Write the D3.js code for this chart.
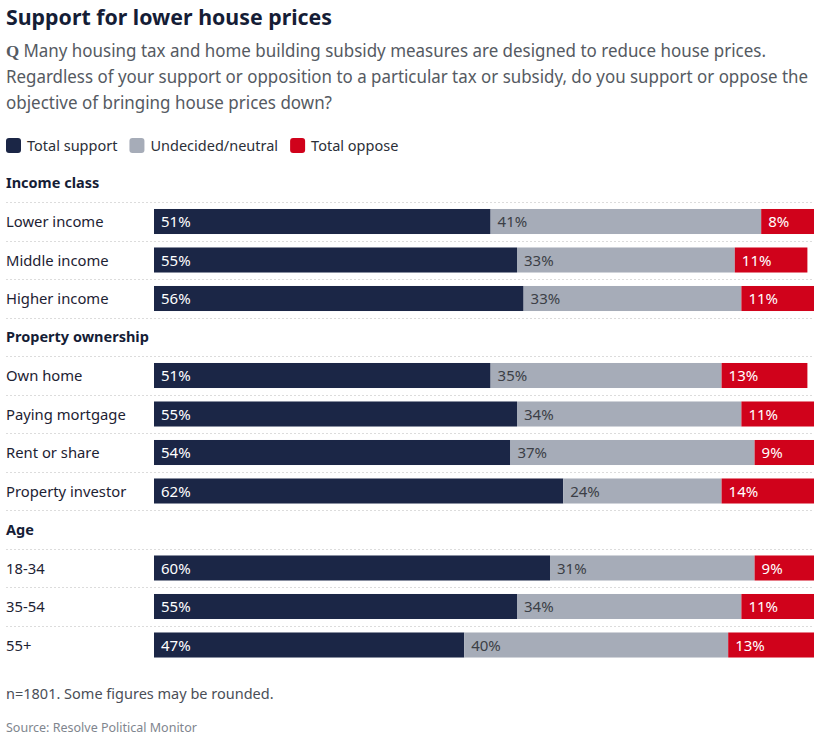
<!DOCTYPE html>
<html>
<head>
<meta charset="utf-8">
<script src="https://cdn.jsdelivr.net/npm/d3@7"></script>
<style>
  body { margin: 0; background: #fff; }
  svg { display: block; font-family: 'Noto Sans', sans-serif; }
</style>
</head>
<body>
<svg id="chart" width="835" height="737"></svg>
<script>
// Support for lower house prices - stacked 100% bars by group
const seriesNames = ['Total support', 'Undecided/neutral', 'Total oppose'];
const seriesColors = ['#1b2646', '#a6acb8', '#d0021b'];
const labelColors = ['#ffffff', '#3c3f46', '#ffffff'];

const groups = ['Income class', 'Property ownership', 'Age'];
const categories = [
  ['Lower income', 'Middle income', 'Higher income'],
  ['Own home', 'Paying mortgage', 'Rent or share', 'Property investor'],
  ['18-34', '35-54', '55+']
];
const support = [[51, 55, 56], [51, 55, 54, 62], [60, 55, 47]];
const neutral = [[41, 33, 33], [35, 34, 37, 24], [31, 34, 40]];
const oppose = [[8, 11, 11], [13, 11, 9, 14], [9, 11, 13]];

const svg = d3.select('#chart');

// Title + question
svg.append('text')
  .attr('x', 6).attr('y', 25)
  .attr('fill', '#151d36')
  .attr('font-size', '21.5px')
  .attr('font-weight', 'bold')
  .attr('textLength', 326)
  .attr('lengthAdjust', 'spacingAndGlyphs')
  .text('Support for lower house prices');

const qLines = [
  'Many housing tax and home building subsidy measures are designed to reduce house prices.',
  'Regardless of your support or opposition to a particular tax or subsidy, do you support or oppose the',
  'objective of bringing house prices down?'
];
const qWidths = [760, 802, 326];
qLines.forEach((line, i) => {
  const t = svg.append('text')
    .attr('x', 6).attr('y', 57 + i * 26)
    .attr('fill', '#555a62')
    .attr('font-size', '17.5px')
    .attr('textLength', qWidths[i])
    .attr('lengthAdjust', 'spacingAndGlyphs');
  if (i === 0) {
    t.append('tspan').attr('font-weight', 'bold').attr('font-family', 'Liberation Serif, serif').text('Q ');
  }
  t.append('tspan').text(line);
});

// Legend
const legend = svg.append('g').attr('transform', 'translate(6,138)');
let lx = 0;
seriesNames.forEach((name, i) => {
  legend.append('rect')
    .attr('x', lx).attr('y', 0)
    .attr('width', 15).attr('height', 15)
    .attr('rx', 3)
    .attr('fill', seriesColors[i]);
  const t = legend.append('text')
    .attr('x', lx + 21).attr('y', 13)
    .attr('fill', '#2b2f38')
    .attr('font-size', '14.5px')
    .text(name);
  lx += 21 + t.node().getComputedTextLength() + 12;
});

// Build rows (headers + categories)
const rows = [];
groups.forEach((g, gi) => {
  rows.push({ type: 'header', label: g });
  categories[gi].forEach((c, ci) => {
    rows.push({
      type: 'bar', label: c,
      values: [support[gi][ci], neutral[gi][ci], oppose[gi][ci]]
    });
  });
});

const y = d3.scaleBand()
  .domain(d3.range(rows.length))
  .range([163.75, 163.75 + 38.5 * rows.length])
  .paddingInner(0.35)
  .paddingOuter(0.175);

const x = d3.scaleLinear().domain([0, 100]).range([154, 814]);

const rowStep = y.step();

// Dotted separators between rows
rows.forEach((r, i) => {
  if (i === rows.length - 1) return;
  const yy = y(i) - y.paddingOuter() * rowStep + rowStep;
  svg.append('line')
    .attr('x1', 6).attr('x2', 814)
    .attr('y1', Math.round(yy) + 0.5).attr('y2', Math.round(yy) + 0.5)
    .attr('stroke', '#dcdcdc')
    .attr('stroke-width', 1)
    .attr('stroke-dasharray', '2,2');
});

rows.forEach((r, i) => {
  const cy = y(i) + y.bandwidth() / 2;
  if (r.type === 'header') {
    svg.append('text')
      .attr('x', 6).attr('y', cy + 5)
      .attr('fill', '#151d36')
      .attr('font-size', '14.5px')
      .attr('font-weight', 'bold')
      .text(r.label);
    return;
  }
  svg.append('text')
    .attr('x', 6).attr('y', cy + 5.5)
    .attr('fill', '#1d2233')
    .attr('font-size', '14.8px')
    .text(r.label);

  let acc = 0;
  r.values.forEach((v, si) => {
    svg.append('rect')
      .attr('x', x(acc))
      .attr('y', y(i))
      .attr('width', x(acc + v) - x(acc))
      .attr('height', y.bandwidth())
      .attr('fill', seriesColors[si]);
    svg.append('text')
      .attr('x', x(acc) + 7)
      .attr('y', cy + 5.5)
      .attr('fill', labelColors[si])
      .attr('font-size', '15px')
      .text(v + '%');
    acc += v;
  });
});

// Footer
svg.append('text')
  .attr('x', 6).attr('y', 699)
  .attr('fill', '#4a4e57')
  .attr('font-size', '14.5px')
  .text('n=1801. Some figures may be rounded.');

svg.append('text')
  .attr('x', 6).attr('y', 732)
  .attr('fill', '#80858e')
  .attr('font-size', '12.5px')
  .text('Source: Resolve Political Monitor');
</script>
</body>
</html>
